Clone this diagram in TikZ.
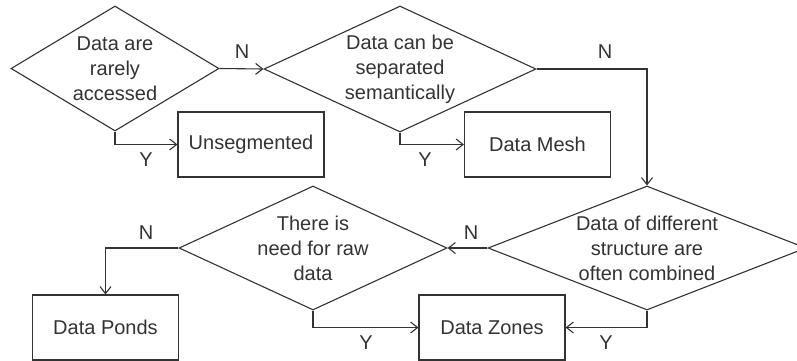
\documentclass[tikz,border=0pt]{standalone}
\usepackage{fontspec}
\setmainfont{Liberation Sans}
\usepackage{tikz}
\usetikzlibrary{arrows.meta, shapes.geometric, positioning}
\definecolor{ink}{HTML}{333333}

\begin{document}
\begin{tikzpicture}[x=1pt, y=-1pt, line width=1.1pt, draw=ink, text=ink,
    font=\fontsize{20}{25}\selectfont,
    decision/.style={draw, diamond, inner sep=0pt},
    outcome/.style={draw, rectangle, minimum width=146, minimum height=65, inner sep=0pt},
    flow/.style={-{Straight Barb[length=7pt, width=11pt]}},
    answer/.style={inner sep=0pt}]
  \useasboundingbox (0,0) rectangle (797,360);

  % decisions
  \node[decision, minimum width=208, minimum height=125] (rare) at (115,68.5) {};
  \node[align=center] (rareT) at (rare) {Data are\\rarely\\accessed};
  \node[decision, minimum width=272, minimum height=126] (sep) at (400,69) {};
  \node[align=center] (sepT) at (sep) {Data can be\\separated\\semantically};
  \node[decision, minimum width=318, minimum height=124] (struct) at (647,248) {};
  \node[align=center] (structT) at (struct) {Data of different\\structure are\\often combined};
  \node[decision, minimum width=268, minimum height=124] (raw) at (313,248) {};
  \node[align=center] (rawT) at (raw) {There is\\need for raw\\data};

  % outcomes
  \node[outcome] (unseg) at (251,144.5) {Unsegmented};
  \node[outcome] (mesh) at (537.5,144.5) {Data Mesh};
  \node[outcome] (ponds) at (105.5,327.5) {Data Ponds};
  \node[outcome] (zones) at (492,327.5) {Data Zones};

  % connectors
  \draw[flow] (rare.east) -- (sep.west);
  \draw[flow] (rare.south) |- (unseg.west);
  \draw[flow] (sep.south) |- (mesh.west);
  \draw[flow] (sep.east) -| (struct.north);
  \draw[flow] (struct.west) -- (raw.east);
  \draw[flow] (raw.west) -| (ponds.north);
  \draw[flow] (raw.south) |- (zones.west);
  \draw[flow] (struct.south) |- (zones.east);

  % answers
  \node[answer] (n1) at (242,52) {N};
  \node[answer] (y1) at (146,160) {Y};
  \node[answer] (y2) at (425,160) {Y};
  \node[answer] (n2) at (605,52) {N};
  \node[answer] (n3) at (471,233) {N};
  \node[answer] (n4) at (146,233) {N};
  \node[answer] (y3) at (366,343) {Y};
  \node[answer] (y4) at (606,343) {Y};
\end{tikzpicture}
\end{document}
